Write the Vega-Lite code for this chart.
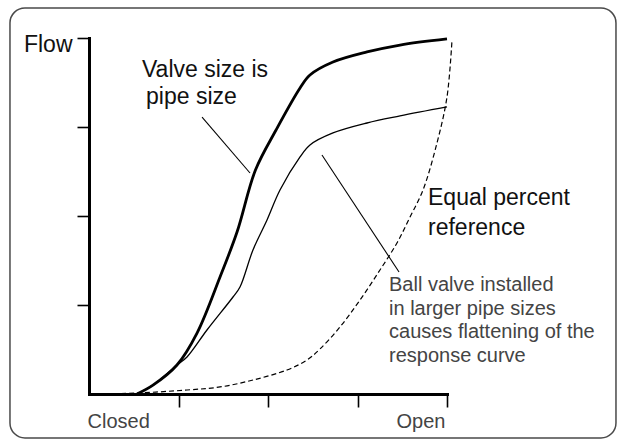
{
  "$schema": "https://vega.github.io/schema/vega-lite/v6.json",
  "width": 358,
  "height": 356,
  "autosize": "none",
  "padding": {"left": 89, "top": 38, "right": 179, "bottom": 48},
  "background": "white",
  "config": {
    "view": {"stroke": null},
    "font": "Liberation Sans"
  },
  "datasets": {
    "curves": [
      {"series": "pipe", "x": 0.536, "y": 0},
      {"series": "pipe", "x": 0.715, "y": 0.10},
      {"series": "pipe", "x": 0.983, "y": 0.326},
      {"series": "pipe", "x": 1.207, "y": 0.685},
      {"series": "pipe", "x": 1.464, "y": 1.315},
      {"series": "pipe", "x": 1.654, "y": 1.82},
      {"series": "pipe", "x": 1.86, "y": 2.517},
      {"series": "pipe", "x": 2.09, "y": 2.966},
      {"series": "pipe", "x": 2.358, "y": 3.438},
      {"series": "pipe", "x": 2.469, "y": 3.584},
      {"series": "pipe", "x": 2.726, "y": 3.73},
      {"series": "pipe", "x": 3.106, "y": 3.843},
      {"series": "pipe", "x": 3.475, "y": 3.921},
      {"series": "pipe", "x": 4.0, "y": 3.989},
      {"series": "ball", "x": 0.536, "y": 0},
      {"series": "ball", "x": 0.715, "y": 0.10},
      {"series": "ball", "x": 0.983, "y": 0.326},
      {"series": "ball", "x": 1.095, "y": 0.416},
      {"series": "ball", "x": 1.318, "y": 0.719},
      {"series": "ball", "x": 1.609, "y": 1.09},
      {"series": "ball", "x": 1.687, "y": 1.202},
      {"series": "ball", "x": 1.832, "y": 1.618},
      {"series": "ball", "x": 1.989, "y": 1.955},
      {"series": "ball", "x": 2.134, "y": 2.292},
      {"series": "ball", "x": 2.358, "y": 2.663},
      {"series": "ball", "x": 2.469, "y": 2.798},
      {"series": "ball", "x": 2.726, "y": 2.933},
      {"series": "ball", "x": 3.106, "y": 3.045},
      {"series": "ball", "x": 3.475, "y": 3.124},
      {"series": "ball", "x": 4.0, "y": 3.225},
      {"series": "equal", "x": 0, "y": 0},
      {"series": "equal", "x": 0.536, "y": 0.011},
      {"series": "equal", "x": 1.095, "y": 0.045},
      {"series": "equal", "x": 1.464, "y": 0.079},
      {"series": "equal", "x": 1.832, "y": 0.157},
      {"series": "equal", "x": 2.212, "y": 0.27},
      {"series": "equal", "x": 2.436, "y": 0.382},
      {"series": "equal", "x": 2.581, "y": 0.506},
      {"series": "equal", "x": 2.804, "y": 0.753},
      {"series": "equal", "x": 3.028, "y": 1.056},
      {"series": "equal", "x": 3.251, "y": 1.393},
      {"series": "equal", "x": 3.441, "y": 1.697},
      {"series": "equal", "x": 3.587, "y": 1.989},
      {"series": "equal", "x": 3.732, "y": 2.292},
      {"series": "equal", "x": 3.888, "y": 2.82},
      {"series": "equal", "x": 4.0, "y": 3.337},
      {"series": "equal", "x": 4.056, "y": 3.978}
    ],
    "leaders": [
      {"id": "a", "x": 1.263, "y": 3.112},
      {"id": "a", "x": 1.799, "y": 2.483},
      {"id": "b", "x": 2.603, "y": 2.685},
      {"id": "b", "x": 3.464, "y": 1.371}
    ],
    "labels": [
      {"t": "Valve size is", "x": 0.592, "y": 3.562, "g": "dark"},
      {"t": "pipe size", "x": 0.637, "y": 3.258, "g": "dark"},
      {"t": "Equal percent", "x": 3.788, "y": 2.124, "g": "dark"},
      {"t": "reference", "x": 3.788, "y": 1.787, "g": "dark"},
      {"t": "Ball valve installed", "x": 3.352, "y": 1.161, "g": "gray"},
      {"t": "in larger pipe sizes", "x": 3.352, "y": 0.888, "g": "gray"},
      {"t": "causes flattening of the", "x": 3.352, "y": 0.629, "g": "gray"},
      {"t": "response curve", "x": 3.352, "y": 0.36, "g": "gray"}
    ]
  },
  "layer": [
    {
      "data": {"values": [{}]},
      "mark": {"type": "rect", "filled": false, "stroke": "#4a4a4a", "strokeWidth": 1.5, "cornerRadius": 15},
      "encoding": {
        "x": {"datum": -0.883, "type": "quantitative", "scale": {"domain": [0, 4], "nice": false, "zero": false},
          "axis": {
            "values": [0, 1, 2, 3, 4],
            "title": null,
            "grid": false,
            "labelExpr": "datum.value == 0 ? 'Closed' : datum.value == 4 ? 'Open' : ''",
            "labelAlign": {"condition": {"test": "datum.value == 0", "value": "left"}, "value": "right"},
            "labelBaseline": "alphabetic",
            "labelPadding": 20,
            "labelFont": "Liberation Sans",
            "labelFontSize": 20,
            "labelColor": "#444444",
            "labelOffset": -2,
            "labelFlush": false,
            "labelOverlap": false,
            "domainColor": "#000000",
            "domainWidth": 3,
            "domainCap": "square",
            "tickColor": "#000000",
            "tickWidth": 1.6,
            "tickSize": 13,
            "tickOpacity": {"condition": {"test": "datum.value == 0", "value": 0}, "value": 1}
          }
        },
        "x2": {"datum": 5.888},
        "y": {"datum": -0.494, "type": "quantitative", "scale": {"domain": [0, 4], "nice": false, "zero": false},
          "axis": {
            "values": [0, 1, 2, 3, 4],
            "title": null,
            "grid": false,
            "labelExpr": "datum.value == 4 ? 'Flow' : ''",
            "labelBaseline": "alphabetic",
            "labelAlign": "right",
            "labelPadding": 5,
            "labelOffset": 13,
            "labelFont": "Liberation Sans",
            "labelFontSize": 23,
            "labelColor": "#111111",
            "labelFlush": false,
            "labelOverlap": false,
            "domainColor": "#000000",
            "domainWidth": 3,
            "domainCap": "square",
            "tickColor": "#000000",
            "tickWidth": 1.6,
            "tickSize": 12,
            "tickOpacity": {"condition": {"test": "datum.value == 0", "value": 0}, "value": 1}
          }
        },
        "y2": {"datum": 4.337}
      }
    },
    {
      "data": {"name": "curves"},
      "transform": [{"filter": "datum.series == 'equal'"}],
      "mark": {"type": "line", "color": "#000000", "strokeWidth": 1.2, "strokeDash": [5, 3], "interpolate": "catmull-rom", "clip": false},
      "encoding": {
        "x": {"field": "x", "type": "quantitative"},
        "y": {"field": "y", "type": "quantitative"}
      }
    },
    {
      "data": {"name": "curves"},
      "transform": [{"filter": "datum.series == 'ball'"}],
      "mark": {"type": "line", "color": "#000000", "strokeWidth": 1.3, "interpolate": "catmull-rom"},
      "encoding": {
        "x": {"field": "x", "type": "quantitative"},
        "y": {"field": "y", "type": "quantitative"}
      }
    },
    {
      "data": {"name": "curves"},
      "transform": [{"filter": "datum.series == 'pipe'"}],
      "mark": {"type": "line", "color": "#000000", "strokeWidth": 2.8, "interpolate": "catmull-rom"},
      "encoding": {
        "x": {"field": "x", "type": "quantitative"},
        "y": {"field": "y", "type": "quantitative"}
      }
    },
    {
      "data": {"name": "leaders"},
      "mark": {"type": "line", "color": "#000000", "strokeWidth": 1.1},
      "encoding": {
        "x": {"field": "x", "type": "quantitative"},
        "y": {"field": "y", "type": "quantitative"},
        "detail": {"field": "id"}
      }
    },
    {
      "data": {"name": "labels"},
      "transform": [{"filter": "datum.g == 'dark'"}],
      "mark": {"type": "text", "align": "left", "baseline": "alphabetic", "font": "Liberation Sans", "fontSize": 23, "color": "#111111"},
      "encoding": {
        "x": {"field": "x", "type": "quantitative"},
        "y": {"field": "y", "type": "quantitative"},
        "text": {"field": "t"}
      }
    },
    {
      "data": {"name": "labels"},
      "transform": [{"filter": "datum.g == 'gray'"}],
      "mark": {"type": "text", "align": "left", "baseline": "alphabetic", "font": "Liberation Sans", "fontSize": 20, "color": "#444444"},
      "encoding": {
        "x": {"field": "x", "type": "quantitative"},
        "y": {"field": "y", "type": "quantitative"},
        "text": {"field": "t"}
      }
    }
  ]
}
